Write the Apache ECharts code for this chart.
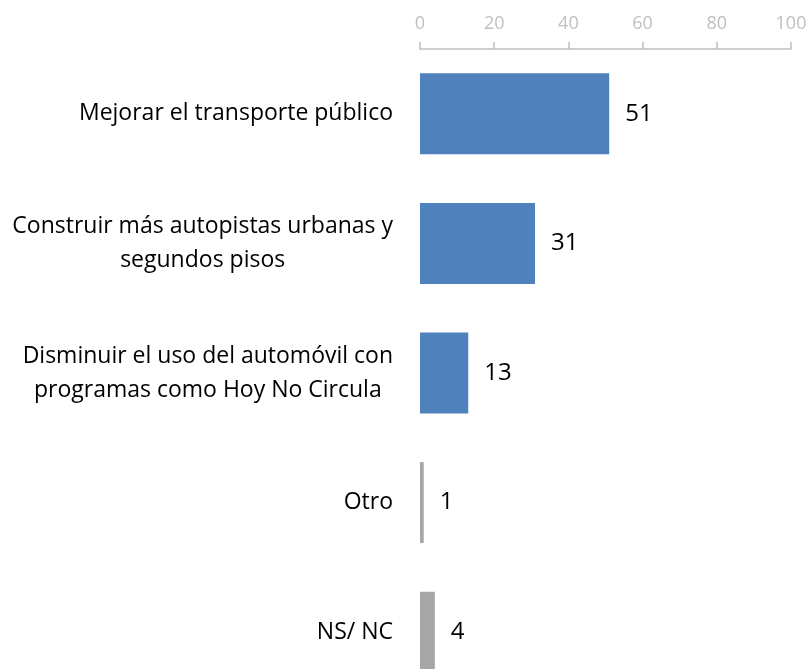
<!DOCTYPE html>
<html>
<head>
<meta charset="utf-8">
<script src="https://cdn.jsdelivr.net/npm/echarts@6/dist/echarts.min.js"></script>
<style>
  html, body { margin: 0; padding: 0; background: #fff; }
  #chart { width: 810px; height: 669px; }
</style>
</head>
<body>
<div id="chart"></div>
<script>
// categories from top to bottom
var categories = [
  "Mejorar el transporte público",
  "Construir más autopistas urbanas y\nsegundos pisos",
  "Disminuir el uso del automóvil con\nprogramas como Hoy No Circula",
  "Otro",
  "NS/ NC"
];
var values = [51, 31, 13, 1, 4];
var barColors = ["#4F81BD", "#4F81BD", "#4F81BD", "#A6A6A6", "#A6A6A6"];
var xTicks = [0, 20, 40, 60, 80, 100];

var myChart = echarts.init(document.getElementById("chart"));
var option = {
  animation: false,
  grid: {
    left: 420,
    width: 371,
    top: 49,
    height: 648,
    outerBoundsMode: "none"
  },
  xAxis: {
    type: "value",
    position: "top",
    min: xTicks[0],
    max: xTicks[xTicks.length - 1],
    interval: 20,
    axisLine: { show: true, lineStyle: { color: "#BFBFBF", width: 1.5 } },
    axisTick: { show: true, length: 7, lineStyle: { color: "#BFBFBF", width: 1.5 } },
    axisLabel: {
      color: "#BFBFBF",
      fontFamily: "Open Sans",
      fontSize: 18,
      margin: 16
    },
    splitLine: { show: false }
  },
  yAxis: {
    type: "category",
    inverse: true,
    data: categories,
    axisLine: { show: false },
    axisTick: { show: false },
    axisLabel: {
      margin: 27,
      formatter: function (v) {
        return v.split("\n").map(function (l) { return "{a|" + l + "}"; }).join("\n");
      },
      rich: {
        a: {
          color: "#000",
          fontFamily: "Open Sans",
          fontSize: 23,
          lineHeight: 34,
          align: "center"
        }
      }
    }
  },
  series: [{
    type: "bar",
    barWidth: 81,
    data: values.map(function (v, i) {
      return { value: v, itemStyle: { color: barColors[i] } };
    }),
    label: {
      show: true,
      position: "right",
      distance: 16,
      color: "#000",
      fontFamily: "Open Sans",
      fontSize: 24
    }
  }]
};
myChart.setOption(option);
</script>
</body>
</html>
